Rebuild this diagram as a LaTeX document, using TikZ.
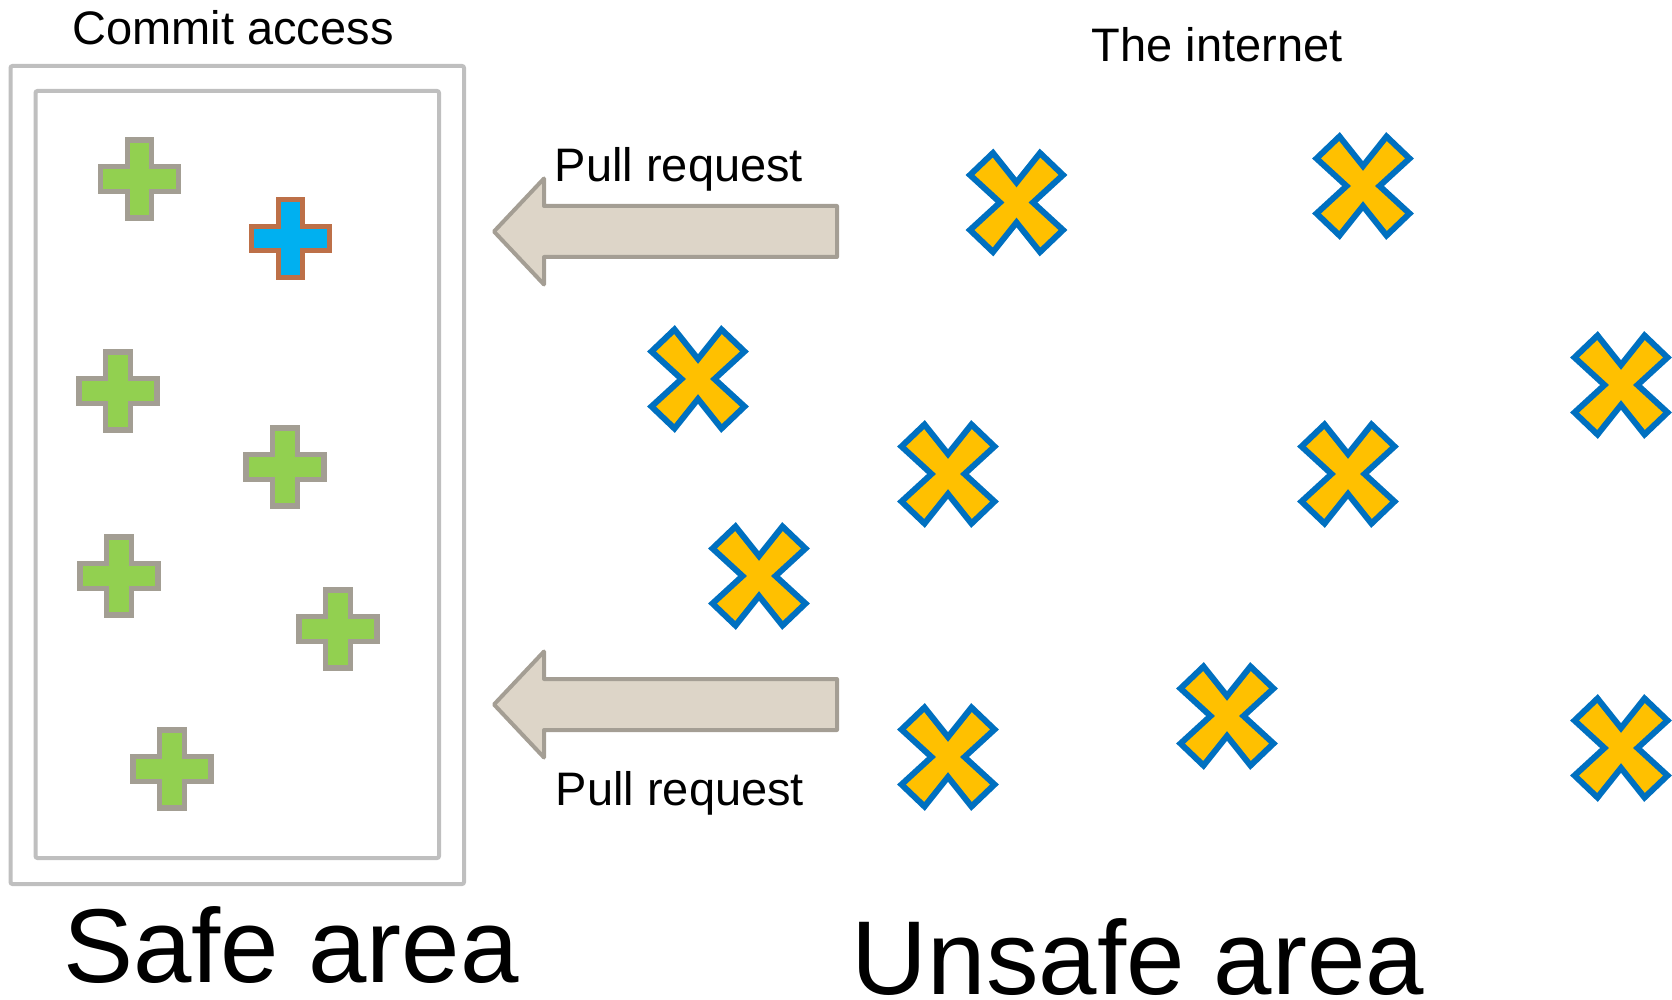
\documentclass[tikz,border=0pt]{standalone}
\usepackage{fontspec}
\setmainfont{Liberation Sans}
\definecolor{boxgray}{HTML}{BFBFBF}
\definecolor{plusgreen}{HTML}{92D050}
\definecolor{plusedge}{HTML}{A39E93}
\definecolor{plusblue}{HTML}{00B0F0}
\definecolor{blueedge}{HTML}{BD7048}
\definecolor{xyellow}{HTML}{FFC000}
\definecolor{xedge}{HTML}{0070C0}
\definecolor{arrowfill}{HTML}{DDD5C8}
\definecolor{arrowedge}{HTML}{A49E94}
\tikzset{
  area/.style={draw=boxgray, line width=2pt, rounded corners=1pt},
  lbl/.style={font=\fontsize{23.5pt}{28pt}\selectfont, anchor=base, inner sep=0pt},
  biglbl/.style={font=\fontsize{52.5pt}{60pt}\selectfont, anchor=base, inner sep=0pt},
  greenplus/.style={draw=plusedge, fill=plusgreen, line width=2.65pt},
  blueplus/.style={draw=blueedge, fill=plusblue, line width=2.65pt},
  xmark/.style={draw=xedge, fill=xyellow, line width=3pt, line join=miter},
  prarrow/.style={draw=arrowedge, fill=arrowfill, line width=2pt, line join=round},
  plusshape/.pic={\path[pic actions] (-12.3,-39) -- (12.3,-39) -- (12.3,-12.3) -- (39,-12.3) -- (39,12.3) -- (12.3,12.3) -- (12.3,39) -- (-12.3,39) -- (-12.3,12.3) -- (-39,12.3) -- (-39,-12.3) -- (-12.3,-12.3) -- cycle;},
  xshape/.pic={\path[pic actions] (0,-20) -- (23.5,-49.5) -- (46.5,-27.5) -- (16.5,0) -- (46.5,27.5) -- (23.5,49.5) -- (0,20) -- (-23.5,49.5) -- (-46.5,27.5) -- (-16.5,0) -- (-46.5,-27.5) -- (-23.5,-49.5) -- cycle;},
  arrowshape/.pic={\path[pic actions] (0,0) -- (50,-53) -- (50,-25.5) -- (343,-25.5) -- (343,25.5) -- (50,25.5) -- (50,53) -- cycle;}
}
\begin{document}
\begin{tikzpicture}[x=0.5pt, y=-0.5pt]
\useasboundingbox (0,0) rectangle (1672,1000);
% areas
\draw[area] (10.5,66) rectangle (464,884);
\draw[area] (35.5,91) rectangle (439,858);
% labels
\node[lbl] (commit) at (233,45) {Commit access};
\node[lbl] (internet) at (1217,62) {The internet};
\node[lbl] (pr1) at (679,182) {Pull request};
\node[lbl] (pr2) at (680,805) {Pull request};
\node[biglbl] (safe) at (291,982) {Safe area};
\node[biglbl] (unsafe) at (1138,994) {Unsafe area};
% pull request arrows
\pic[prarrow] (arr1) at (494,231.5) {arrowshape};
\pic[prarrow] (arr2) at (494,704.5) {arrowshape};
% committers
\pic[greenplus] (p1) at (139.5,179) {plusshape};
\pic[blueplus] (p2) at (290.5,238.5) {plusshape};
\pic[greenplus] (p3) at (118,391) {plusshape};
\pic[greenplus] (p4) at (285,467) {plusshape};
\pic[greenplus] (p5) at (119,576) {plusshape};
\pic[greenplus] (p6) at (338,629) {plusshape};
\pic[greenplus] (p7) at (172,769) {plusshape};
% internet users
\pic[xmark] (x1) at (1016.5,202.5) {xshape};
\pic[xmark] (x2) at (1363,186) {xshape};
\pic[xmark] (x3) at (698,379) {xshape};
\pic[xmark] (x4) at (1621,385) {xshape};
\pic[xmark] (x5) at (948,474) {xshape};
\pic[xmark] (x6) at (1348,474) {xshape};
\pic[xmark] (x7) at (759,576) {xshape};
\pic[xmark] (x8) at (948,757) {xshape};
\pic[xmark] (x9) at (1227,716) {xshape};
\pic[xmark] (x10) at (1621,748) {xshape};
\end{tikzpicture}
\end{document}
